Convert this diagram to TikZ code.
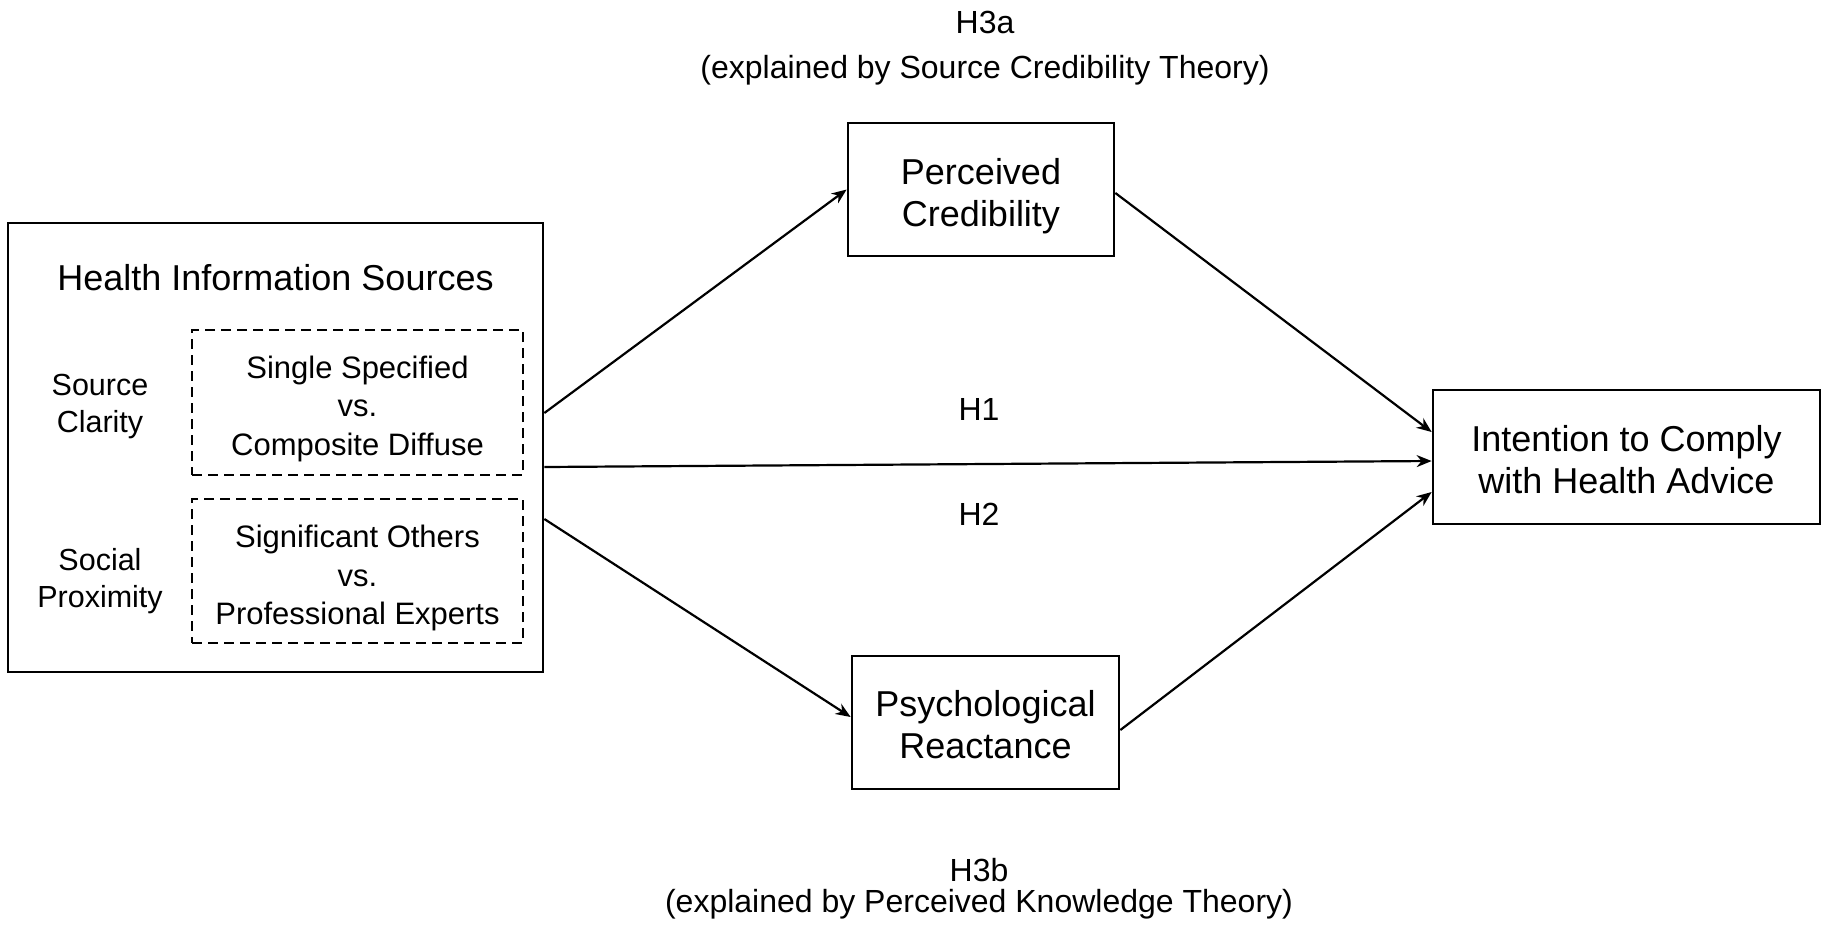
\documentclass[tikz,border=0pt]{standalone}
\usepackage{fontspec}
\setmainfont{Liberation Sans}
\usetikzlibrary{arrows.meta}
\tikzset{
  box/.style={draw, line width=2.7pt, rectangle, inner sep=0pt},
  dbox/.style={draw, line width=2.6pt, dash pattern=on 10pt off 6pt, rectangle, inner sep=0pt},
  boxtext/.style={inner sep=0pt, align=center, font=\fontsize{36}{42}\selectfont},
  dtext/.style={inner sep=0pt, align=center, font=\fontsize{31}{38.5}\selectfont},
  lbl/.style={inner sep=0pt, align=center, font=\fontsize{30.5}{37.5}\selectfont},
  ttl/.style={inner sep=0pt, align=center, font=\fontsize{36}{42}\selectfont},
  hlbl/.style={inner sep=0pt, align=center, font=\fontsize{32}{36}\selectfont},
  arr/.style={line width=2.2pt, -{Stealth[length=15pt, width=12pt]}}
}
\begin{document}
\begin{tikzpicture}[x=1pt, y=-1pt]
\useasboundingbox (0,0) rectangle (1831,927);
\node[box, minimum width=535pt, minimum height=449pt] (L) at (275.5,447.5) {};
\node[ttl] (title) at (275.5,278) {Health Information Sources};
\node[lbl] (sc) at (100,406.5) {Source\\Clarity};
\node[lbl] (sp) at (100,581) {Social\\Proximity};
\node[dbox, minimum width=331pt, minimum height=145pt] (D1) at (357.5,402.5) {};
\node[dtext] (D1t) at (357.5,408.5) {Single Specified\\vs.\\Composite Diffuse};
\node[dbox, minimum width=331pt, minimum height=144pt] (D2) at (357.5,571) {};
\node[dtext] (D2t) at (357.5,578) {Significant Others\\vs.\\Professional Experts};
\node[box, minimum width=266pt, minimum height=133pt] (PC) at (981,189.5) {};
\node[boxtext] (PCt) at (981,196) {Perceived\\Credibility};
\node[box, minimum width=267pt, minimum height=133pt] (PR) at (985.5,722.5) {};
\node[boxtext] (PRt) at (985.5,724.5) {Psychological\\Reactance};
\node[box, minimum width=387pt, minimum height=134pt] (IN) at (1626.5,457) {};
\node[boxtext] (INt) at (1626.5,459.5) {Intention to Comply\\with Health Advice};
\node[hlbl] (h3a) at (985,22) {H3a};
\node[hlbl] (h3ae) at (985,70) {(explained by Source Credibility Theory)};
\node[hlbl] (h1) at (979,409) {H1};
\node[hlbl] (h2) at (979,514) {H2};
\node[hlbl] (h3b) at (979,870) {H3b};
\node[hlbl] (h3be) at (979,904) {(explained by Perceived Knowledge Theory)};
\draw[arr] ([yshift=34.5pt]L.east) -- (PC.west);
\draw[arr] ([yshift=-19.5pt]L.east) -- ([yshift=-4pt]IN.west);
\draw[arr] ([yshift=-71.5pt]L.east) -- ([yshift=5.5pt]PR.west);
\draw[arr] ([yshift=-3.5pt]PC.east) -- ([yshift=25pt]IN.west);
\draw[arr] ([yshift=-7.5pt]PR.east) -- ([yshift=-35pt]IN.west);
\end{tikzpicture}
\end{document}
